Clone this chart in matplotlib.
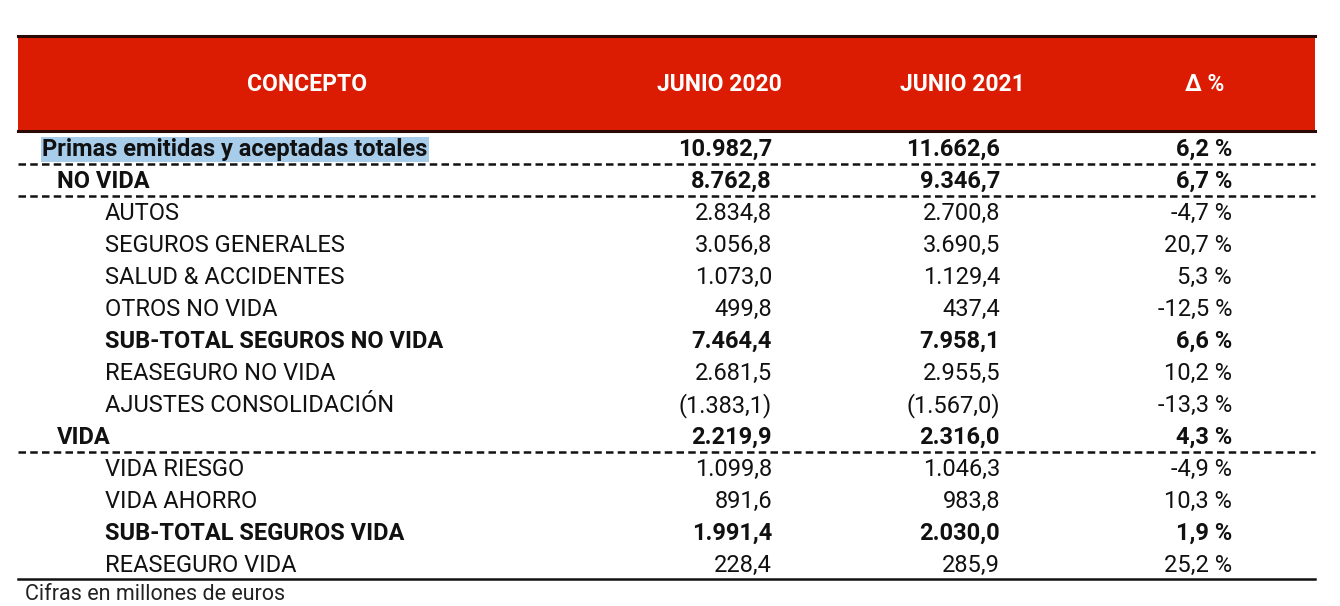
import matplotlib.pyplot as plt
from matplotlib.patches import Rectangle

plt.rcParams["font.family"] = ["Roboto", "DejaVu Sans"]

# table data (millones de euros)
headers = ["CONCEPTO", "JUNIO 2020", "JUNIO 2021", "Δ %"]
conceptos = ["Primas emitidas y aceptadas totales", "NO VIDA", "AUTOS",
             "SEGUROS GENERALES", "SALUD & ACCIDENTES", "OTROS NO VIDA",
             "SUB-TOTAL SEGUROS NO VIDA", "REASEGURO NO VIDA",
             "AJUSTES CONSOLIDACIÓN", "VIDA", "VIDA RIESGO", "VIDA AHORRO",
             "SUB-TOTAL SEGUROS VIDA", "REASEGURO VIDA"]
junio_2020 = [10982.7, 8762.8, 2834.8, 3056.8, 1073.0, 499.8, 7464.4,
              2681.5, -1383.1, 2219.9, 1099.8, 891.6, 1991.4, 228.4]
junio_2021 = [11662.6, 9346.7, 2700.8, 3690.5, 1129.4, 437.4, 7958.1,
              2955.5, -1567.0, 2316.0, 1046.3, 983.8, 2030.0, 285.9]
delta = [6.2, 6.7, -4.7, 20.7, 5.3, -12.5, 6.6, 10.2, -13.3, 4.3,
         -4.9, 10.3, 1.9, 25.2]
# 0 = total, 1 = section, 2 = item, 3 = subtotal
nivel = [0, 1, 2, 2, 2, 2, 3, 2, 2, 1, 2, 2, 3, 2]
nota = "Cifras en millones de euros"


def fmt_num(v):
    s = f"{abs(v):,.1f}".replace(",", "#").replace(".", ",").replace("#", ".")
    return f"({s})" if v < 0 else s


def fmt_pct(v):
    return f"{v:.1f}".replace(".", ",") + " %"


W, H = 1340, 606
fig = plt.figure(figsize=(W / 100, H / 100), dpi=100)
ax = fig.add_axes([0, 0, 1, 1])
ax.set_xlim(0, W)
ax.set_ylim(H, 0)
ax.axis("off")

x0, x1 = 18, 1315
fs = 17

# header
ax.add_patch(Rectangle((x0, 36), x1 - x0, 95, facecolor="#dc1c02", edgecolor="none"))
ax.plot([x0, x1], [36, 36], color="#2a0a05", lw=2.2)
ax.plot([x0, x1], [131, 131], color="#2a0a05", lw=2.2)
head_x = [307, 719, 962, 1205]
for hx, h in zip(head_x, headers):
    ax.text(hx, 84.5, h, color="white", fontsize=16.5, fontweight="bold",
            ha="center", va="center")

# rows
row_y0, row_h = 149.5, 32
indent = {0: 42, 1: 57, 2: 105, 3: 105}
for i, c in enumerate(conceptos):
    y = row_y0 + i * row_h
    bold = nivel[i] != 2
    fw = "bold" if bold else "normal"
    kw = {}
    if nivel[i] == 0:
        kw["bbox"] = dict(boxstyle="square,pad=0.06", facecolor="#a8cdea",
                          edgecolor="none")
    ax.text(indent[nivel[i]], y, c, fontsize=fs, fontweight=fw,
            ha="left", va="center", color="#111111", **kw)
    ax.text(772, y, fmt_num(junio_2020[i]), fontsize=fs, fontweight=fw,
            ha="right", va="center", color="#111111")
    ax.text(1000, y, fmt_num(junio_2021[i]), fontsize=fs, fontweight=fw,
            ha="right", va="center", color="#111111")
    ax.text(1232, y, fmt_pct(delta[i]), fontsize=fs, fontweight=fw,
            ha="right", va="center", color="#111111")

# separators
for yy in [164, 196, 452]:
    ax.plot([x0, x1], [yy, yy], color="#111111", lw=1.8,
            linestyle=(0, (3, 1.7)))
ax.plot([x0, x1], [579, 579], color="#111111", lw=1.8)

ax.text(25, 605.5, nota, fontsize=15.5, ha="left", va="bottom",
        color="#222222")

fig.savefig("out.png", dpi=100)
